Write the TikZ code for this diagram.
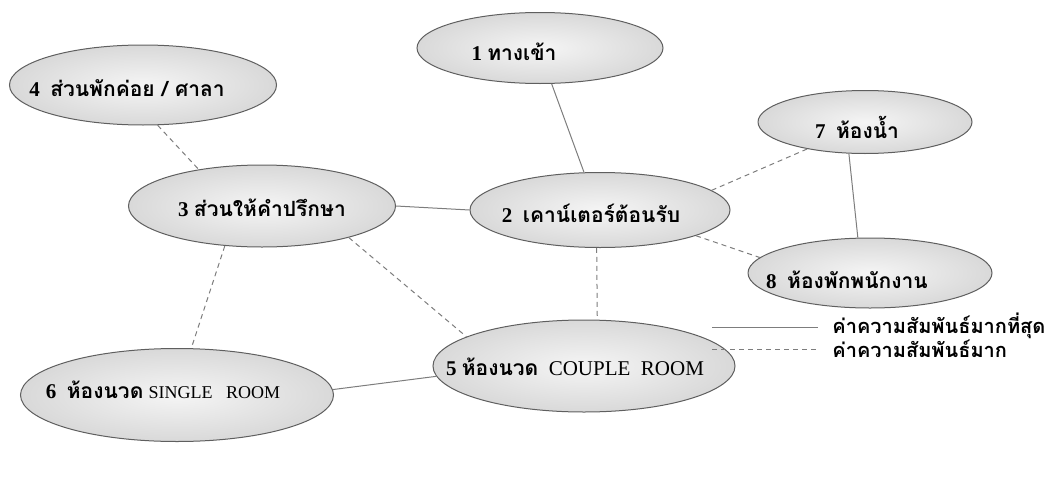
\documentclass[tikz,border=0pt]{standalone}
\usepackage{fontspec}
\setmainfont{Liberation Serif}
\newfontfamily\thaifont[Script=Thai]{Loma}
\usetikzlibrary{shapes.geometric}
\definecolor{linkgray}{RGB}{125,125,125}
\definecolor{rimgray}{RGB}{95,95,95}
\newcommand{\thw}[1]{{\thaifont #1}}
\newcommand{\latw}[2][9]{{\fontsize{#1}{11}\selectfont\mdseries #2}}

\begin{document}
\begin{tikzpicture}[
        x=0.5pt, y=-0.5pt,
        room/.style={ellipse, draw=rimgray, line width=0.5pt, inner sep=0pt, inner color=gray!8, outer color=gray!30},
        wh/.style 2 args={minimum width=#1*0.5pt, minimum height=#2*0.5pt},
        lbl/.style={inner sep=0pt, font=\fontsize{10.5}{12}\selectfont\bfseries},
        legendtxt/.style={inner sep=0pt, anchor=west, font=\fontsize{10}{12}\selectfont\bfseries},
        strong/.style={draw=linkgray, line width=0.5pt},
        weak/.style={draw=linkgray, line width=0.5pt, dash pattern=on 2.5pt off 2pt}
    ]
    \useasboundingbox (0,0) rectangle (1060,498);

    % zones
    \node[room, wh={246}{71}] (entry) at (540,48) {};
    \node[room, wh={260}{75}] (counter) at (600,210) {};
    \node[room, wh={267}{82}] (consult) at (262,206) {};
    \node[room, wh={267}{80}] (rest) at (143,85) {};
    \node[room, wh={302}{92}] (couple) at (584,366) {};
    \node[room, wh={313}{93}] (single) at (177,395) {};
    \node[room, wh={214}{63}] (toilet) at (865,122) {};
    \node[room, wh={244}{70}] (staff) at (870,273) {};

    % texts
    \node[lbl] (entry-t) at (514,52) {1\ \thw{ทางเข้า}};
    \node[lbl] (counter-t) at (591,213) {2\ \ \thw{เคาน์เตอร์ต้อนรับ}};
    \node[lbl] (consult-t) at (262,208) {3 \thw{ส่วนให้คำปรึกษา}};
    \node[lbl] (rest-t) at (127,88) {4\ \ \thw{ส่วนพักค่อย / ศาลา}};
    \node[lbl] (couple-t) at (575,367) {5 \thw{ห้องนวด}\ \ \latw[10.5]{COUPLE\ \ ROOM}};
    \node[lbl] (single-t) at (163,390) {6\ \ \thw{ห้องนวด} \latw{SINGLE\ \ \ ROOM}};
    \node[lbl] (toilet-t) at (857,127) {7\ \ \thw{ห้องน้ำ}};
    \node[lbl] (staff-t) at (847,280) {8\ \ \thw{ห้องพักพนักงาน}};

    % links
    \draw[strong] (entry.288) -- (counter.113);
    \draw[strong] (consult.east) -- (counter.west);
    \draw[weak] (counter.10) -- (toilet.205);
    \draw[weak] (counter.345) -- (staff.172);
    \draw[strong] (toilet.243) -- (staff.109);
    \draw[weak] (counter.265) -- (couple.74);
    \draw[weak] (rest.290) -- (consult.150);
    \draw[weak] (consult.340) -- (couple.166);
    \draw[weak] (consult.227) -- (single.73);
    \draw[strong] (single.2) -- (couple.184);

    % legend
    \coordinate (solid-a) at (712,327);
    \coordinate (solid-b) at (818,327);
    \coordinate (dash-a) at (712,349);
    \coordinate (dash-b) at (818,349);
    \node[legendtxt] (solid-t) at (832,326) {\thw{ค่าความสัมพันธ์มากที่สุด}};
    \node[legendtxt] (dash-t) at (832,349) {\thw{ค่าความสัมพันธ์มาก}};
    \draw[strong] (solid-a) -- (solid-b);
    \draw[weak] (dash-a) -- (dash-b);
\end{tikzpicture}
\end{document}
